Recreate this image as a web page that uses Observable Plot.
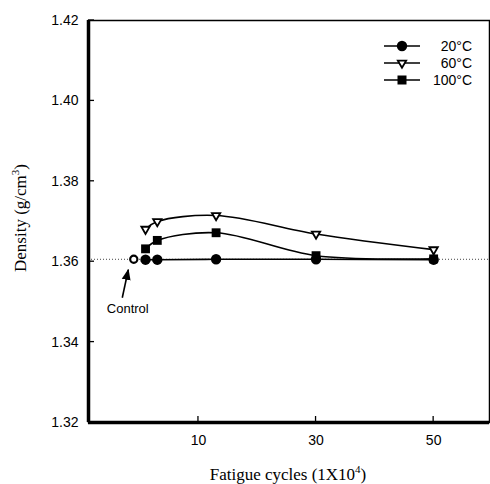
<!DOCTYPE html>
<html><head><meta charset="utf-8">
<script src="https://cdn.jsdelivr.net/npm/d3@7"></script>
<script src="https://cdn.jsdelivr.net/npm/@observablehq/plot@0.6"></script>
<style>
body{margin:0;background:#fff}
#chart{position:relative;width:490px;height:484px}
</style>
</head><body><div id="chart"></div>
<script>
// ---- data ----
const cycles = [1, 3, 13, 30, 50];
const density20 = [1.3605, 1.3605, 1.3606, 1.3606, 1.3605];
const density60 = [1.3681, 1.3700, 1.3715, 1.3669, 1.3630];
const density100 = [1.3632, 1.3653, 1.3672, 1.3615, 1.3607];
const seriesNames = ["20°C", "60°C", "100°C"];
const controlCycles = [-1];
const controlDensity = [1.3606];
const xTicks = [10, 30, 50];
const yTicks = [1.32, 1.34, 1.36, 1.38, 1.40, 1.42];
const xDomain = [-8.7, 59.5];
const yDomain = [1.32, 1.42];

const rows = (vals, s) => cycles.map((c, i) => ({cycles: c, density: vals[i], series: s}));
const d20 = rows(density20, seriesNames[0]);
const d60 = rows(density60, seriesNames[1]);
const d100 = rows(density100, seriesNames[2]);
const control = controlCycles.map((c, i) => ({cycles: c, density: controlDensity[i]}));

const sans = "'Liberation Sans', Arial, sans-serif";
const serif = "'Liberation Serif', 'Times New Roman', serif";
const triR = 3.1;

const plot = Plot.plot({
  width: 490, height: 484,
  marginLeft: 88, marginRight: 1, marginTop: 20, marginBottom: 62,
  style: {fontFamily: sans, fontSize: "14px", color: "#000", background: "#fff"},
  x: {domain: xDomain, ticks: xTicks, label: null},
  y: {domain: yDomain, ticks: yTicks, label: null},
  marks: [
    Plot.ruleY(controlDensity, {stroke: "#444", strokeWidth: 1, strokeDasharray: "1,2"}),
    Plot.frame({stroke: "#000", strokeWidth: 1.5}),
    Plot.ruleX([xDomain[0]], {stroke: "#000", strokeWidth: 3.5}),
    Plot.ruleY([yDomain[0]], {stroke: "#000", strokeWidth: 3.5}),
    Plot.axisX({ticks: xTicks, tickSize: 0, tickPadding: 13, tickFormat: d3.format("d"), fontSize: 14}),
    Plot.axisY({ticks: yTicks, tickSize: 0, tickPadding: 10, tickFormat: d3.format(".2f"), fontSize: 14}),
    Plot.line(d20, {x: "cycles", y: "density", stroke: "#000", strokeWidth: 1.6, curve: "catmull-rom"}),
    Plot.line(d60, {x: "cycles", y: "density", stroke: "#000", strokeWidth: 1.6, curve: "catmull-rom"}),
    Plot.line(d100, {x: "cycles", y: "density", stroke: "#000", strokeWidth: 1.6, curve: "catmull-rom"}),
    Plot.dot(d20, {x: "cycles", y: "density", symbol: "circle", r: 5.2, fill: "#000"}),
    Plot.dot(d60, {x: "cycles", y: "density", symbol: "triangle", r: triR, rotate: 180, fill: "#fff", stroke: "#000", strokeWidth: 1.8}),
    Plot.dot(d100, {x: "cycles", y: "density", symbol: "square", r: 5, fill: "#000"}),
    Plot.dot(control, {x: "cycles", y: "density", symbol: "circle", r: 3.6, fill: "#fff", stroke: "#000", strokeWidth: 2.2}),
    Plot.text(control, {x: "cycles", y: "density", text: () => "Control", dy: 50, dx: -6, fontSize: 13, fontFamily: sans, fill: "#000"})
  ]
});

const svg = d3.select(plot);
const sx = plot.scale("x"), sy = plot.scale("y");
const x0 = sx.apply(xDomain[0]), yb = sy.apply(yDomain[0]);

// inward tick marks
const tg = svg.append("g").attr("stroke", "#000").attr("stroke-width", 1.3);
xTicks.forEach(t => tg.append("line").attr("x1", sx.apply(t)).attr("x2", sx.apply(t)).attr("y1", yb).attr("y2", yb - 6));
yTicks.forEach(t => tg.append("line").attr("y1", sy.apply(t)).attr("y2", sy.apply(t)).attr("x1", x0).attr("x2", x0 + 6));

// arrow pointing to control
svg.append("defs").append("marker")
  .attr("id", "ah").attr("viewBox", "0 0 10 10").attr("refX", 9).attr("refY", 5)
  .attr("markerWidth", 7).attr("markerHeight", 7).attr("orient", "auto")
  .append("path").attr("d", "M0,1L10,5L0,9z").attr("fill", "#000");
const cx = sx.apply(control[0].cycles), cy = sy.apply(control[0].density);
svg.append("line").attr("x1", cx - 11).attr("y1", cy + 39).attr("x2", cx - 5).attr("y2", cy + 11)
  .attr("stroke", "#000").attr("stroke-width", 1.6).attr("marker-end", "url(#ah)");

// legend
const leg = svg.append("g").attr("font-family", sans).attr("font-size", 14);
seriesNames.forEach((name, i) => {
  const y = 46 + i * 17;
  const g = leg.append("g").attr("transform", `translate(0,${y})`);
  g.append("line").attr("x1", 384).attr("x2", 420).attr("stroke", "#000").attr("stroke-width", 1.6);
  if (i === 0) g.append("circle").attr("cx", 402).attr("r", 5.2).attr("fill", "#000");
  if (i === 1) g.append("path").attr("transform", "translate(402,0) rotate(180)")
      .attr("d", d3.symbol(d3.symbolTriangle, Math.PI * triR * triR)()).attr("fill", "#fff").attr("stroke", "#000").attr("stroke-width", 1.8);
  if (i === 2) g.append("rect").attr("x", 397.5).attr("y", -4.5).attr("width", 9).attr("height", 9).attr("fill", "#000");
  g.append("text").attr("x", 472).attr("dy", "0.35em").attr("text-anchor", "end").attr("fill", "#000").text(name);
});

// axis titles
svg.append("text").attr("x", 288).attr("y", 480).attr("text-anchor", "middle")
  .attr("font-family", serif).attr("font-size", 17).attr("fill", "#000")
  .call(t => { t.append("tspan").text("Fatigue cycles (1X10");
               t.append("tspan").attr("font-size", 11).attr("dy", -7).text("4");
               t.append("tspan").attr("dy", 7).text(")"); });
svg.append("text").attr("transform", "translate(26,218) rotate(-90)").attr("text-anchor", "middle")
  .attr("font-family", serif).attr("font-size", 17).attr("fill", "#000")
  .call(t => { t.append("tspan").text("Density (g/cm");
               t.append("tspan").attr("font-size", 11).attr("dy", -7).text("3");
               t.append("tspan").attr("dy", 7).text(")"); });

document.getElementById("chart").appendChild(plot);
</script>
</body></html>
